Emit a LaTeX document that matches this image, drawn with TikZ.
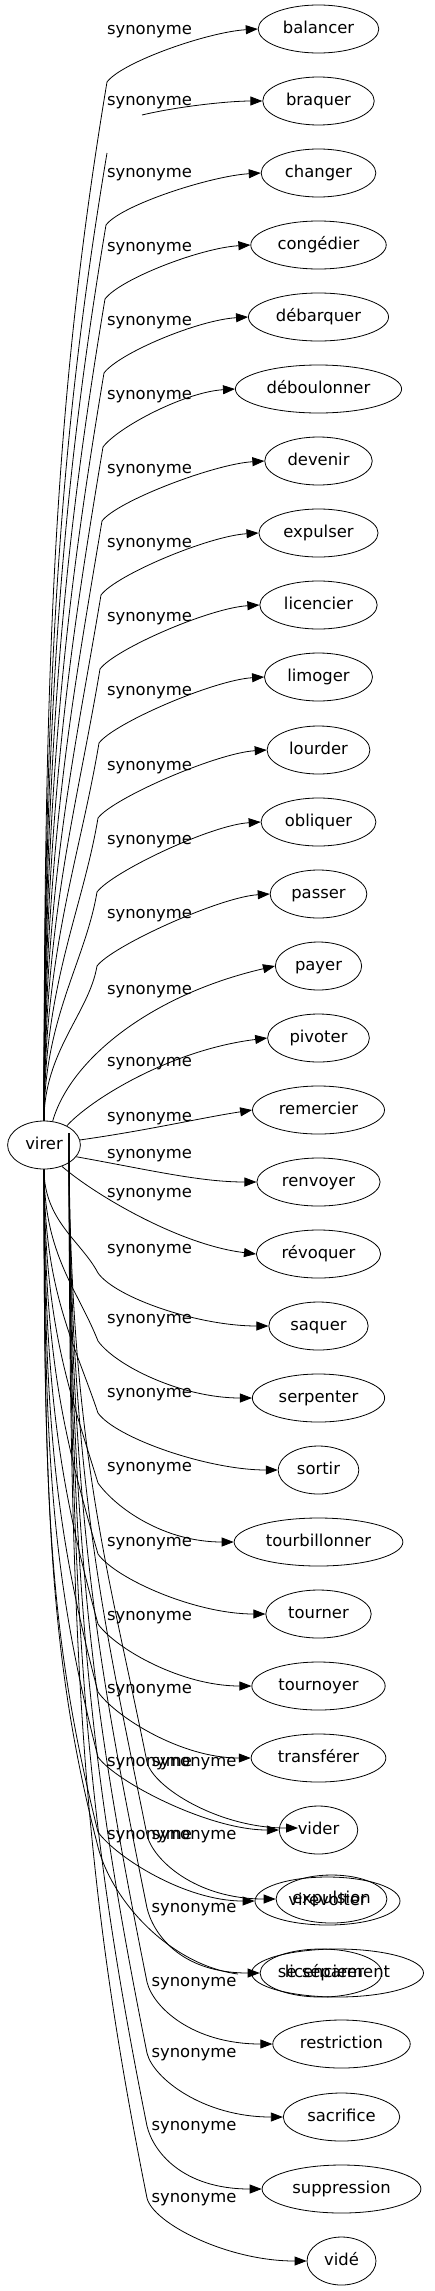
\documentclass[tikz,border=0pt]{standalone}
\usepackage{fontspec}
\setmainfont{DejaVu Sans}
\usetikzlibrary{shapes.geometric,arrows.meta}
\begin{document}
\begin{tikzpicture}[x=1pt,y=-1pt,
  nd/.style={ellipse,draw,line width=0.8pt,inner xsep=7pt,inner ysep=3pt,minimum height=48pt,
    text height=12pt,text depth=3.9pt,font=\fontsize{16.4}{19}\selectfont},
  lab/.style={inner sep=0pt,text height=12pt,text depth=3.9pt,font=\fontsize{16.4}{19}\selectfont},
  ed/.style={line width=0.8pt},
  arr/.style={ed,-{Triangle[length=12pt,width=9pt]}},
]
\fill[white] (0,0) rectangle (434,2291);
\useasboundingbox (0,0) rectangle (434,2291);

\node[nd] (virer) at (44,1145) {virer};

\node[nd] (n0) at (318.5,29) {balancer};
\node[nd] (n1) at (318.5,101) {braquer};
\node[nd] (n2) at (318.5,173) {changer};
\node[nd] (n3) at (318.5,245) {congédier};
\node[nd] (n4) at (318.5,317) {débarquer};
\node[nd] (n5) at (318.5,389) {déboulonner};
\node[nd] (n6) at (318.5,461) {devenir};
\node[nd] (n7) at (318.5,533) {expulser};
\node[nd] (n8) at (318.5,605) {licencier};
\node[nd] (n9) at (318.5,677) {limoger};
\node[nd] (n10) at (318.5,750) {lourder};
\node[nd] (n11) at (318.5,822) {obliquer};
\node[nd] (n12) at (318.5,894) {passer};
\node[nd] (n13) at (318.5,966) {payer};
\node[nd] (n14) at (318.5,1038) {pivoter};
\node[nd] (n15) at (318.5,1110) {remercier};
\node[nd] (n16) at (318.5,1182) {renvoyer};
\node[nd] (n17) at (318.5,1254) {révoquer};
\node[nd] (n18) at (318.5,1326) {saquer};
\node[nd] (n19) at (318.5,1398) {serpenter};
\node[nd] (n20) at (318.5,1470) {sortir};
\node[nd] (n21) at (318.5,1542) {tourbillonner};
\node[nd] (n22) at (318.5,1614) {tourner};
\node[nd] (n23) at (318.5,1686) {tournoyer};
\node[nd] (n24) at (318.5,1758) {transférer};
\node[nd] (n25) at (318.5,1830) {vider};
\node[nd,minimum width=145pt] (n26) at (327.5,1901) {virevolter};
\node[nd,inner xsep=0pt] (n27) at (321,1973) {se séparer};

\coordinate (hid) at (298,1828);
\node[nd,inner xsep=0pt] (m1) at (331.5,1899) {expulsion};
\node[nd,minimum width=172pt] (m2) at (337.5,1973) {licenciement};
\node[nd] (m3) at (341.5,2044) {restriction};
\node[nd] (m4) at (341.5,2117) {sacrifice};
\node[nd] (m5) at (341.5,2189) {suppression};
\node[nd] (m6) at (341.5,2261) {vidé};

% upper edges of the first group
\foreach \n/\L/\bx in {n0/30/107, n2/173/106, n3/247/105, n4/321/104, n5/395/103, n6/469/102,
  n7/543/101, n8/617/100, n9/691/99, n10/766/98, n11/840/97, n12/914/97}{
  \pgfmathsetmacro\by{\L+52}
  \pgfmathsetmacro\h{1121-\by}
  \pgfmathsetmacro\cay{1121-0.45*\h}
  \pgfmathsetmacro\cbx{\bx-0.05*\h}
  \pgfmathsetmacro\cby{\by+0.3*\h}
  \draw[arr] (virer.north) .. controls (44,\cay) and (\cbx,\cby) .. (\bx,\by)
     .. controls (\bx+15,\by-20) and ([xshift=-50pt,yshift=-3pt]\n.west) .. (\n.west);
  \node[lab] (la\n) at (149.5,\L) {synonyme};
}

% broken edge to braquer
\coordinate (bq1) at (107,153);
\coordinate (bq2) at (142,115);
\draw[ed] (virer.north) .. controls (44,685) and (58.6,443) .. (bq1);
\draw[arr] (bq2) .. controls (180,106) and (230,101) .. (n1.west);
\node[lab] (lan1) at (149.5,101) {synonyme};

% edges near virer
\draw[arr] (virer.70) .. controls (70,1060) and (150,995) .. (n13.west);
\node[lab] (lan13) at (149.5,990) {synonyme};
\draw[arr] (virer.40) .. controls (90,1100) and (170,1050) .. (n14.west);
\node[lab] (lan14) at (149.5,1062) {synonyme};
\draw[arr] (virer.8) .. controls (150,1130) and (200,1118) .. (n15.west);
\node[lab] (lan15) at (149.5,1117) {synonyme};
\draw[arr] (virer.-20) .. controls (150,1170) and (200,1182) .. (n16.west);
\node[lab] (lan16) at (149.5,1154) {synonyme};
\draw[arr] (virer.-50) .. controls (95,1195) and (180,1245) .. (n17.west);
\node[lab] (lan17) at (149.5,1193) {synonyme};

% lower edges of the first group
\foreach \n/\L/\o in {n18/1249/24, n19/1319/22, n20/1393/20, n21/1467/16, n22/1542/12,
  n23/1616/8, n24/1689/3, n25/1762/-5, n26/1835/-3}{
  \pgfmathsetmacro\by{\L+\o}
  \pgfmathsetmacro\h{\by-1169}
  \pgfmathsetmacro\cay{1169+0.5*\h}
  \pgfmathsetmacro\cbx{88-0.06*\h}
  \pgfmathsetmacro\cby{\by-0.3*\h}
  \draw[arr] (virer.south) .. controls (44,\cay) and (\cbx,\cby) .. (98,\by)
     .. controls (116,\by+25) and ([xshift=-70pt]\n.west) .. (\n.west);
  \node[lab] (la\n) at (149.5,\L) {synonyme};
}

% unlabelled edge ending short of se séparer
\coordinate (sepend) at (238,1974);
\draw[ed] (virer.south) .. controls (44,1506) and (50,1660) .. (97,1843)
   .. controls (110,1900) and (170,1965) .. (sepend);

% second group
\coordinate (vB) at (69,1133);
\foreach \t/\L in {hid/1762, m1.west/1835, n27.west/1908, m3.west/1982, m4.west/2053,
  m5.west/2126, m6.west/2198}{
  \pgfmathsetmacro\h{\L-1133}
  \pgfmathsetmacro\cay{1133+0.5*\h}
  \pgfmathsetmacro\cbx{147-0.06*\h}
  \pgfmathsetmacro\cby{\L-0.3*\h}
  \draw[arr] (vB) .. controls (69,\cay) and (\cbx,\cby) .. (147,\L)
     .. controls (153,\L+25) and ([xshift=-80pt]\t) .. (\t);
  \node[lab] (lb\L) at (194,\L) {synonyme};
}
\end{tikzpicture}
\end{document}
